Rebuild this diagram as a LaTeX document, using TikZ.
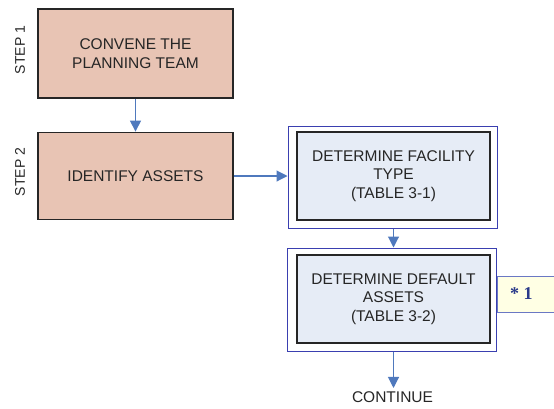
\documentclass[tikz,border=0pt]{standalone}
\usepackage{fontspec}
\setmainfont{Liberation Sans}
\newfontfamily\notefont{Liberation Serif}
\usetikzlibrary{arrows.meta}
\definecolor{stepfill}{HTML}{E8C4B4}
\definecolor{taskfill}{HTML}{E6ECF6}
\definecolor{flowblue}{HTML}{4F79BD}
\definecolor{frameblue}{HTML}{3A3FB0}
\definecolor{notefill}{HTML}{FFFFE4}
\definecolor{noteedge}{HTML}{6A78C4}
\definecolor{notetext}{HTML}{2A3A8A}
\definecolor{inkdark}{HTML}{262626}
\tikzset{
  stepbox/.style={draw=inkdark, line width=1.8pt, fill=stepfill, inner sep=0pt,
    align=center, font=\fontsize{15.5}{19}\selectfont, text=inkdark},
  taskbox/.style={draw=inkdark, line width=1.6pt, fill=taskfill, inner sep=0pt,
    minimum width=193pt, minimum height=88pt,
    align=center, font=\fontsize{15.5}{18.3}\selectfont, text=inkdark},
  framebox/.style={draw=frameblue, line width=1pt, inner sep=0pt,
    minimum width=209pt, minimum height=102pt},
  steplabel/.style={rotate=90, font=\fontsize{14}{16}\selectfont, text=inkdark},
  flow/.style={draw=flowblue, line width=1.1pt,
    -{Triangle[length=11pt,width=11pt]}},
}
\begin{document}
\begin{tikzpicture}[x=1pt, y=-1pt]
\useasboundingbox (0,0) rectangle (554,408);

% planning steps
\node[stepbox, minimum width=195pt, minimum height=89pt] (team) at (135.5,53.5)
  {CONVENE THE\\PLANNING TEAM};
\node[stepbox, minimum width=195pt, minimum height=87pt] (assets) at (135.5,176)
  {IDENTIFY ASSETS};
\node[steplabel] (s1) at (20,50) {STEP 1};
\node[steplabel] (s2) at (20,172) {STEP 2};

% task boxes with their blue frames
\node[framebox] (facframe) at (392.5,177) {};
\node[taskbox] (facility) at (393.5,176) {DETERMINE FACILITY\\TYPE\\(TABLE 3-1)};
\node[framebox, minimum height=103pt] (defframe) at (391.5,299.5) {};
\node[taskbox] (default) at (393.5,299) {DETERMINE DEFAULT\\ASSETS\\(TABLE 3-2)};

% footnote marker
\node[draw=noteedge, line width=0.8pt, fill=notefill, minimum width=57pt,
  minimum height=36pt, inner sep=0pt] (note) at (525.5,294) {};
\node[anchor=west, inner sep=0pt, text=notetext,
  font=\fontsize{18}{20}\selectfont\notefont\bfseries] (notetxt) at (510,294) {* 1};

\node[font=\fontsize{15.5}{18}\selectfont, text=inkdark] (cont) at (392.5,397) {CONTINUE};

% connectors
\draw[flow] (team.south) -- (assets.north);
\draw[flow] (assets.east) -- (assets.east -| facframe.west);
\draw[flow] (facframe.south -| facility.south) -- (defframe.north -| facility.south);
\draw[flow] (defframe.south -| default.south) -- (cont.north -| default.south);
\end{tikzpicture}
\end{document}
